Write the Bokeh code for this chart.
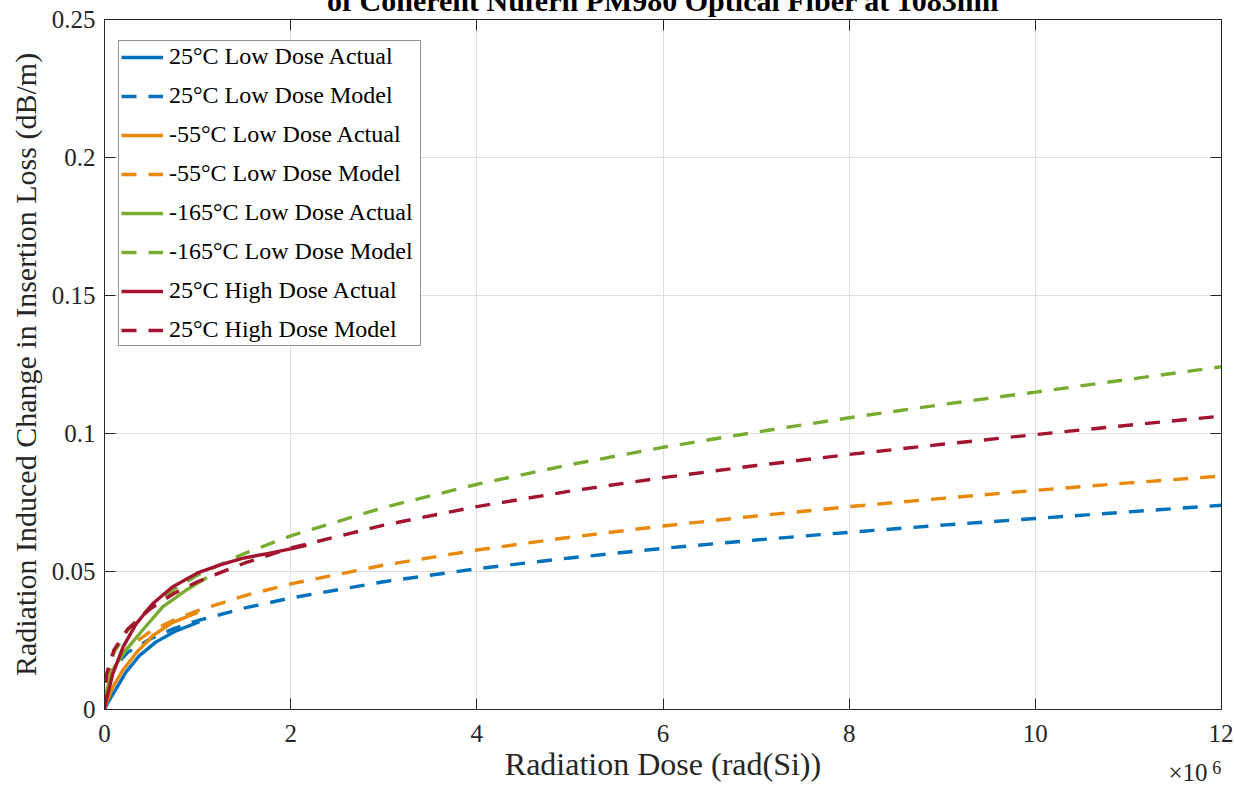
from bokeh.plotting import figure
from bokeh.models import (Range1d, FixedTicker, LinearAxis, Legend, LegendItem,
                          CustomJSTickFormatter)
from bokeh.embed import file_html
from bokeh.resources import INLINE

# ---------------- data (dose in units of 1e6 rad(Si), loss in dB/m) ----------------
dose_model = [0, 0.02, 0.1, 0.25, 0.5, 0.75, 1, 1.5, 2, 3, 4, 5, 6, 7, 8, 9, 10, 11, 12]
model_25_low = [0, 0.0088, 0.0152, 0.0207, 0.0257, 0.0294, 0.0322, 0.0367, 0.0404, 0.0463,
                0.0510, 0.0549, 0.0584, 0.0614, 0.0642, 0.0668, 0.0692, 0.0716, 0.0740]
model_m55_low = [0, 0.0095, 0.0163, 0.0224, 0.0284, 0.0325, 0.0358, 0.0412, 0.0455, 0.0523,
                 0.0578, 0.0624, 0.0665, 0.0701, 0.0735, 0.0765, 0.0794, 0.0821, 0.0846]
model_m165_low = [0, 0.0113, 0.0205, 0.0288, 0.0374, 0.0436, 0.0487, 0.0565, 0.0629, 0.0732,
                  0.0816, 0.0887, 0.0950, 0.1005, 0.1057, 0.1105, 0.1150, 0.1196, 0.1242]
model_25_high = [0, 0.0126, 0.0215, 0.0292, 0.0367, 0.0421, 0.0463, 0.0530, 0.0585, 0.0668,
                 0.0735, 0.0791, 0.0840, 0.0884, 0.0924, 0.0961, 0.0996, 0.1030, 0.1063]

dose_25_low_act = [0, 0.036, 0.125, 0.23, 0.375, 0.555, 0.77, 1.02]
act_25_low = [0, 0.0025, 0.0075, 0.0135, 0.0195, 0.0245, 0.0285, 0.0318]
dose_m55_act = [0, 0.018, 0.09, 0.196, 0.34, 0.52, 0.73, 1.0]
act_m55 = [0, 0.0022, 0.0082, 0.0142, 0.0205, 0.0268, 0.0315, 0.0352]
dose_m165_act = [0, 0.01, 0.05, 0.107, 0.23, 0.41, 0.625, 0.875, 1.1]
act_m165 = [0, 0.005, 0.010, 0.0155, 0.0215, 0.0288, 0.0372, 0.0432, 0.0478]
dose_25_high_act = [0, 0.02, 0.09, 0.2, 0.34, 0.52, 0.73, 1.0, 1.25, 1.5, 1.75, 2.0, 2.17]
act_25_high = [0, 0.0035, 0.013, 0.0227, 0.031, 0.0384, 0.0444, 0.0495, 0.0525, 0.0549,
               0.0565, 0.0582, 0.0595]

labels = ["25°C Low Dose Actual", "25°C Low Dose Model",
          "-55°C Low Dose Actual", "-55°C Low Dose Model",
          "-165°C Low Dose Actual", "-165°C Low Dose Model",
          "25°C High Dose Actual", "25°C High Dose Model"]
colors = ["#0072BD", "#E8890C", "#77AC30", "#A2142F"]

x_ticks = [0, 2, 4, 6, 8, 10, 12]
y_ticks = [0, 0.05, 0.1, 0.15, 0.2, 0.25]
exp_base = "×10"
exp_power = "6"

title_text = "of Coherent Nufern PM980 Optical Fiber at 1083nm"
x_label = "Radiation Dose (rad(Si))"
y_label = "Radiation Induced Change in Insertion Loss (dB/m)"

FONT = "Liberation Serif"
AX = "#262626"
SHIFT = 26   # the figure is slid up so its title is cut at the window top, as in the reference

p = figure(width=1233, height=788 + SHIFT, output_backend="svg", toolbar_location=None,
           x_range=Range1d(0, 12), y_range=Range1d(0, 0.25),
           min_border_left=104, min_border_right=12, min_border_top=19 + SHIFT,
           min_border_bottom=79, styles={"margin-top": f"-{SHIFT}px"})
p.background_fill_color = "white"
p.border_fill_color = "white"
p.outline_line_color = AX
p.outline_line_width = 1

p.title.text = title_text
p.title.text_font = FONT
p.title.text_font_size = "30px"
p.title.text_font_style = "bold"
p.title.text_color = "#000000"
p.title.align = "center"
p.title.standoff = 6

for ax in (p.xaxis[0], p.yaxis[0]):
    ax.axis_line_color = AX
    ax.major_tick_line_color = AX
    ax.major_tick_in = 11
    ax.major_tick_out = 0
    ax.minor_tick_in = 0
    ax.minor_tick_out = 0
    ax.major_label_text_font = FONT
    ax.major_label_text_font_size = "25px"
    ax.major_label_text_color = AX
    ax.axis_label_text_font = FONT
    ax.axis_label_text_font_style = "normal"
    ax.axis_label_text_color = AX

p.xaxis[0].ticker = FixedTicker(ticks=x_ticks)
p.yaxis[0].ticker = FixedTicker(ticks=y_ticks)
p.yaxis[0].formatter = CustomJSTickFormatter(code="return String(Number(tick.toFixed(2)));")
p.xaxis[0].major_label_standoff = 15
p.yaxis[0].major_label_standoff = 9
p.xaxis[0].axis_label = x_label
p.xaxis[0].axis_label_text_font_size = "32px"
p.xaxis[0].axis_label_standoff = 1
p.yaxis[0].axis_label = y_label
p.yaxis[0].axis_label_text_font_size = "30px"
p.yaxis[0].axis_label_standoff = 7

# tick-only axes on the right and top (box style)
for loc, tk in (("right", y_ticks), ("above", x_ticks)):
    ax = LinearAxis(ticker=FixedTicker(ticks=tk),
                    formatter=CustomJSTickFormatter(code="return '';"))
    ax.axis_line_color = AX
    ax.major_tick_line_color = AX
    ax.major_tick_in = 11
    ax.major_tick_out = 0
    ax.minor_tick_in = 0
    ax.minor_tick_out = 0
    ax.major_label_text_font_size = "1px"
    ax.major_label_standoff = 0
    p.add_layout(ax, loc)


def exponent_axis(text, pos, size, standoff):
    a = LinearAxis(ticker=FixedTicker(ticks=[pos]),
                   formatter=CustomJSTickFormatter(code=f"return '{text}';"))
    a.axis_line_color = None
    a.major_tick_line_color = None
    a.minor_tick_line_color = None
    a.major_tick_in = 0
    a.major_tick_out = 0
    a.minor_tick_in = 0
    a.minor_tick_out = 0
    a.major_label_text_font = FONT
    a.major_label_text_font_size = size
    a.major_label_text_color = AX
    a.major_label_standoff = standoff
    return a


# exponent marker "×10^6" under the right end of the x axis
p.add_layout(exponent_axis(exp_base, 11.64, "25px", -26), "below")
p.add_layout(exponent_axis(exp_power, 11.95, "18px", -28), "below")

p.xgrid.grid_line_color = "#dedede"
p.ygrid.grid_line_color = "#dedede"
p.xgrid.ticker = FixedTicker(ticks=x_ticks)
p.ygrid.ticker = FixedTicker(ticks=y_ticks)

series = [
    (dose_25_low_act, act_25_low, dose_model, model_25_low),
    (dose_m55_act, act_m55, dose_model, model_m55_low),
    (dose_m165_act, act_m165, dose_model, model_m165_low),
    (dose_25_high_act, act_25_high, dose_model, model_25_high),
]
items = []
for i, (xa, ya, xm, ym) in enumerate(series):
    c = colors[i]
    ra = p.line(xa, ya, line_color=c, line_width=3.4)
    rm = p.line(xm, ym, line_color=c, line_width=3.4, line_dash="15 12")
    items.append(LegendItem(label=labels[2 * i], renderers=[ra]))
    items.append(LegendItem(label=labels[2 * i + 1], renderers=[rm]))

legend = Legend(items=items, location=(14, 363))
legend.margin = 0
legend.padding = 2
legend.spacing = 12
legend.glyph_width = 42
legend.glyph_height = 26
legend.label_height = 26
legend.label_width = 249
legend.label_standoff = 6
legend.label_text_font = FONT
legend.label_text_font_size = "24px"
legend.label_text_color = "#000000"
legend.border_line_color = AX
legend.border_line_width = 1
legend.background_fill_color = "white"
legend.background_fill_alpha = 1
p.add_layout(legend, "center")

open("out.html", "w").write(file_html(p, INLINE))
